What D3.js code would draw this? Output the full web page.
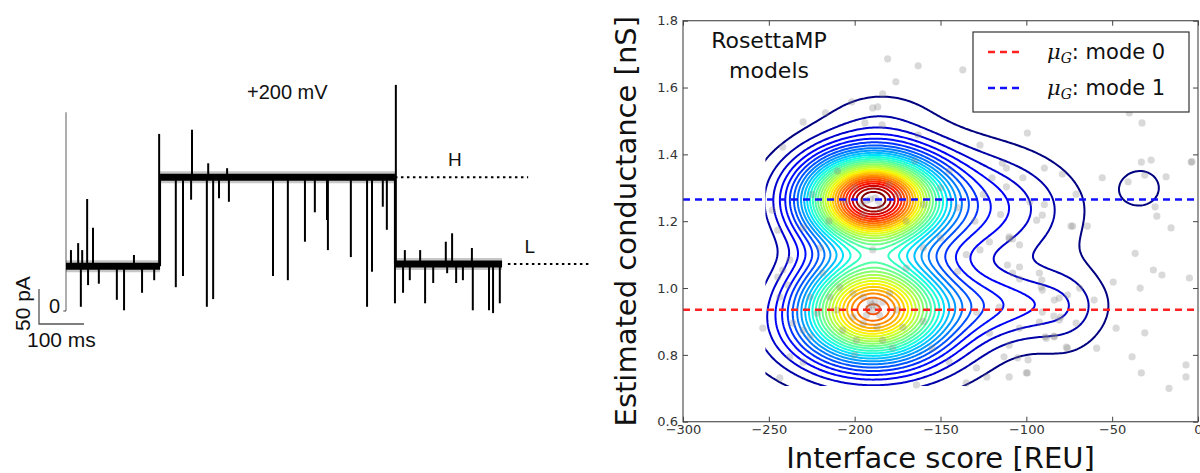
<!DOCTYPE html>
<html>
<head>
<meta charset="utf-8">
<script src="https://cdn.jsdelivr.net/npm/d3@7"></script>
<style>
  html, body { margin: 0; padding: 0; background: #fff; }
  svg { display: block; }
</style>
</head>
<body>
<svg id="fig" width="1200" height="473"></svg>
<script>
// ---------------- Left panel: single-channel current trace ----------------
// Mean current level of each dwell (time in ms, current in pA)
const dwellStart = [0, 209, 731];
const dwellEnd   = [209, 731, 969];
const dwellLevel = [64, 191, 67];

// Brief excursions away from the level: time (ms) and current reached (pA)
const spikeTimes = [11, 27, 33, 36, 47, 49, 60, 73, 113, 129, 151, 169, 196,
  207, 244, 260, 278, 280, 313, 316, 327, 340, 358, 362, 460, 493, 531, 553, 580, 582, 633, 669, 680, 704, 713, 731,
  733, 749, 753, 764, 787, 798, 816, 844, 847, 858, 867, 882, 902, 904, 940, 949, 964];
const spikeCurrents = [87, 97, 6, 87, 160, 37, 119, 39, 16, 1, 80, 26, 44,
  253, 34, 50, 159, 259, 6, 211, 17, 161, 204, 156, 50, 44, 99, 141, 130, 87, 77, 6, 56, 149, 116, 11,
  323, 26, 87, 44, 87, 11, 40, 99, 54, 111, 40, 44, 90, 1, 1, -3, 11];

// Dotted reference levels H and L
const refNames = ["H", "L"];
const refLevel = [191, 67];
const refFrom  = [731, 982];
const refTo    = [1027, 1164];

// Capacitive transient at the voltage step
const transientTime = 0;
const transientPeak = 284;

// ---------------- Right panel: conductance vs interface score ----------------
const xTicks = [-300, -250, -200, -150, -100, -50, 0];
const yTicks = [0.6, 0.8, 1.0, 1.2, 1.4, 1.6, 1.8];

// Gaussian components of the kernel density estimate (score, conductance)
const kdeCx = [-190, -190, -190, -125, -115, -75, -175, -185, -33];
const kdeCy = [1.266, 0.945, 0.86, 1.24, 0.95, 0.93, 1.12, 1.52, 1.30];
const kdeSx = [26, 27, 40, 35, 32, 16, 50, 22, 11];
const kdeSy = [0.09, 0.10, 0.10, 0.11, 0.07, 0.11, 0.26, 0.06, 0.052];
const kdeW  = [1.0, 0.72, 0.14, 0.12, 0.12, 0.04, 0.05, 0.03, 0.05];
const kdeLevels = 30;
// Extent of the evaluation grid
const gridXmin = -252, gridXmax = 5, gridYmin = 0.707, gridYmax = 1.8;

// Mean conductance of each mode
const modeNames = ["mode 0", "mode 1"];
const modeMeans = [0.935, 1.265];
const modeColors = ["#ff2020", "#1010ff"];

// Individual models
const modelScore = [-163, -137, -40, -32.6, -3.5, -31, -55.8, -24, -15.7, -74, -79, -89.5,
  -99.4, -27.3, -33, -4, -40.7, -18.6, -71, -25, -64.5, -73, -36.6, -26, -21, -5, -49.4, -33.7,
  -60.5, -76, -83.7, -80, -71, -47.7, -31, -59, -76.7, -38.4, -7, -7, -33, -99.4, -92.4, -89,
  -83.7, -91.3, -92.4, -104, -110, -108, -94, -90.7, -114, -111.6, -89.5, -102, -111.6, -98,
  -16.9, -105, -99, -100, -110, -113, -104, -88.4, -84, -84, -80.8, -76, -90.7, -80.8, -69,
  -90.7, -91, -104, -108, -111, -104, -110, -121.5, -127, -129, -115.7, -121.5, -110, -164,
  -123, -135, -129, -243.6, -253.5, -237.8, -241.9, -244.8, -239, -243.6, -236, -230, -226,
  -237.8, -230, -189.5, -208.7, -201, -195, -191, -187, -183.7, -189.5, -185.5, -193, -195,
  -187, -201, -210.5, -207, -199, -183.7, -214.5, -179.7, -175.6, -172, -218.6, -226, -222,
  -180.8, -176, -183.7, -189.5, -186.6, -201.7, -217, -194, -184, -230, -241.9, -248, -244.8,
  -191, -193, -188, -200, -185, -195, -175, -205, -180, -215, -160, -170, -150, -140, -130,
  -145, -165, -210, -225, -230, -220, -160, -150, -135, -125, -120, -115, -127, -163, -190,
  -192, -188, -186, -196, -170, -178, -200, -155, -145, -160, -140];
const modelCond = [1.665, 1.653, 1.524, 1.494, 1.378, 1.338, 1.33, 1.215, 1.18, 1.185, 1.341, 1.25,
  1.464, 1.383, 1.377, 1.377, 1.318, 1.333, 1.281, 1.243, 1.185, 1.185, 1.104, 1.054, 1.039, 1.03, 1.018, 1.0,
  0.964, 0.979, 0.964, 0.913, 0.895, 0.88, 0.866, 0.82, 0.823, 0.794, 0.77, 0.734, 0.746, 0.746, 0.898, 0.854,
  0.854, 1.003, 1.045, 1.063, 1.147, 1.147, 1.203, 1.218, 1.374, 1.359, 1.359, 1.33, 1.303, 1.258,
  0.70, 0.791, 0.785, 0.746, 0.734, 0.794, 0.88, 0.85, 0.856, 0.916, 0.904, 0.82, 0.928, 0.97, 1.0,
  0.994, 1.024, 1.027, 1.045, 1.069, 1.129, 1.153, 1.138, 1.114, 0.928, 0.943, 0.865, 0.829, 0.71,
  0.734, 0.716, 0.761, 0.731, 0.88, 1.084, 1.054, 1.033, 1.009, 0.973, 0.895, 0.874, 0.854,
  0.794, 0.778, 1.114, 1.003, 0.985, 0.973, 0.958, 0.943, 0.958, 0.934, 0.919, 0.919, 0.895,
  0.883, 0.913, 0.934, 0.874, 0.844, 0.844, 0.973, 0.985, 0.934, 0.883, 1.045, 0.973, 0.925,
  1.686, 1.617, 1.581, 1.539, 1.542, 1.557, 1.524, 1.494, 1.488, 1.497, 1.422, 1.233, 1.173,
  1.266, 1.262, 1.27, 1.30, 1.24, 1.22, 1.28, 1.26, 1.31, 1.20, 1.25, 1.20, 1.30, 1.24, 1.20,
  1.35, 1.38, 1.35, 1.28, 1.18, 1.12, 1.12, 1.15, 1.10, 1.28, 1.33, 1.22, 1.428, 1.458, 0.95,
  0.94, 0.96, 1.26, 1.25, 1.06, 0.82, 0.80, 0.82, 0.78, 0.90, 1.05];

// ======================================================================
const svg = d3.select("#fig");
const sans = "Liberation Sans, Arial, sans-serif";

// ---- trace ----
const tx = d3.scaleLinear().domain([0, 100]).range([66, 111]);
const ty = d3.scaleLinear().domain([0, 50]).range([311, 276]);
const trace = svg.append("g");

// capacitive transient
trace.append("line")
  .attr("x1", tx(transientTime)).attr("x2", tx(transientTime))
  .attr("y1", ty(0)).attr("y2", ty(transientPeak))
  .attr("stroke", "#777").attr("stroke-width", 1.2);
// zero marker
trace.append("path")
  .attr("d", `M${tx(-6)},${ty(0)}H${tx(transientTime)}`)
  .attr("stroke", "#444").attr("stroke-width", 1).attr("fill", "none");

// noise fringe and core of each dwell
dwellLevel.forEach((lev, k) => {
  trace.append("line")
    .attr("x1", tx(dwellStart[k])).attr("x2", tx(dwellEnd[k]))
    .attr("y1", ty(lev)).attr("y2", ty(lev))
    .attr("stroke", "#000").attr("stroke-opacity", 0.22).attr("stroke-width", 12);
  trace.append("line")
    .attr("x1", tx(dwellStart[k])).attr("x2", tx(dwellEnd[k]))
    .attr("y1", ty(lev)).attr("y2", ty(lev))
    .attr("stroke", "#000").attr("stroke-width", 7);
});
// transitions between dwells
for (let k = 1; k < dwellLevel.length; k++) {
  trace.append("line")
    .attr("x1", tx(dwellStart[k])).attr("x2", tx(dwellStart[k]))
    .attr("y1", ty(dwellLevel[k - 1])).attr("y2", ty(dwellLevel[k]))
    .attr("stroke", "#000").attr("stroke-width", 2);
}
// excursions
function levelAt(t) {
  for (let k = 0; k < dwellLevel.length; k++) if (t <= dwellEnd[k]) return dwellLevel[k];
  return dwellLevel[dwellLevel.length - 1];
}
spikeTimes.forEach((t, i) => {
  trace.append("line")
    .attr("x1", tx(t)).attr("x2", tx(t))
    .attr("y1", ty(levelAt(t))).attr("y2", ty(spikeCurrents[i]))
    .attr("stroke", "#000").attr("stroke-width", 2);
});
// dotted reference levels
refLevel.forEach((lev, k) => {
  trace.append("line")
    .attr("x1", tx(refFrom[k])).attr("x2", tx(refTo[k]))
    .attr("y1", ty(lev)).attr("y2", ty(lev))
    .attr("stroke", "#000").attr("stroke-width", 2).attr("stroke-dasharray", "2.5,3.5");
  trace.append("text")
    .attr("x", tx(refFrom[k]) + (k === 0 ? 60 : 22)).attr("y", ty(lev) - 11)
    .attr("text-anchor", "middle")
    .attr("font-family", sans).attr("font-size", 19).attr("fill", "#111")
    .text(refNames[k]);
});
// voltage label
trace.append("text").attr("x", 247).attr("y", 99)
  .attr("font-family", sans).attr("font-size", 20).attr("fill", "#111")
  .text("+200 mV");
// scale bar
const sbT = -60, sbI = -18.6;
trace.append("path")
  .attr("d", `M${tx(sbT)},${ty(sbI + 50)}V${ty(sbI)}H${tx(sbT + 100)}`)
  .attr("stroke", "#555").attr("stroke-width", 1.3).attr("fill", "none");
trace.append("text").attr("x", 0).attr("y", 0)
  .attr("transform", `translate(30,331) rotate(-90)`)
  .attr("font-family", sans).attr("font-size", 21).attr("fill", "#111")
  .text("50 pA");
trace.append("text").attr("x", 27).attr("y", 347)
  .attr("font-family", sans).attr("font-size", 21).attr("fill", "#111")
  .text("100 ms");
trace.append("text").attr("x", 49).attr("y", 313)
  .attr("font-family", sans).attr("font-size", 20).attr("fill", "#111")
  .text("0");

// ---- density plot ----
const L = 683, R = 1198, T = 20.7, B = 421.7;
const x = d3.scaleLinear().domain([-300, 0]).range([L, R]);
const y = d3.scaleLinear().domain([0.6, 1.8]).range([B, T]);
const plot = svg.append("g");

// jet colormap
const jr = d3.scaleLinear().domain([0, 0.35, 0.66, 0.89, 1]).range([0, 0, 1, 1, 0.5]).clamp(true);
const jg = d3.scaleLinear().domain([0, 0.125, 0.375, 0.64, 0.91, 1]).range([0, 0, 1, 1, 0, 0]).clamp(true);
const jb = d3.scaleLinear().domain([0, 0.11, 0.34, 0.65, 1]).range([0.5, 1, 1, 0, 0]).clamp(true);
const jet = t => d3.rgb(jr(t) * 255, jg(t) * 255, jb(t) * 255).formatHex();

// density evaluated on a pixel grid
const step = 2;
const gx0 = x(gridXmin) - 2 * step, gx1 = x(gridXmax);
const gy0 = y(gridYmax), gy1 = y(gridYmin) + 2 * step;
const nx = Math.ceil((gx1 - gx0) / step) + 1;
const ny = Math.ceil((gy1 - gy0) / step) + 1;
const values = new Float64Array(nx * ny);
for (let j = 0; j < ny; j++) {
  const vy = y.invert(gy0 + j * step);
  for (let i = 0; i < nx; i++) {
    const vx = x.invert(gx0 + i * step);
    let s = 0;
    for (let c = 0; c < kdeCx.length; c++) {
      const dx = (vx - kdeCx[c]) / kdeSx[c], dy = (vy - kdeCy[c]) / kdeSy[c];
      s += kdeW[c] * Math.exp(-0.5 * (dx * dx + dy * dy));
    }
    values[j * nx + i] = s;
  }
}
const vmax = d3.max(values);
const delta = vmax / (kdeLevels + 1);
const thresholds = d3.range(1, kdeLevels + 1).map(k => k * delta);
const contours = d3.contours().size([nx, ny]).thresholds(thresholds)(values);
const gridPath = d3.geoPath(d3.geoTransform({
  point(px, py) { this.stream.point(gx0 + (px - 0.5) * step, gy0 + (py - 0.5) * step); }
}));

svg.append("defs").append("clipPath").attr("id", "kdeClip")
  .append("rect")
  .attr("x", x(gridXmin)).attr("y", T)
  .attr("width", R - x(gridXmin)).attr("height", y(gridYmin) - T);

const colorOf = d3.scaleLinear().domain([thresholds[0], thresholds[thresholds.length - 1]]).range([0, 1]);
plot.append("g").attr("clip-path", "url(#kdeClip)")
  .selectAll("path").data(contours).join("path")
  .attr("d", gridPath)
  .attr("fill", "none")
  .attr("stroke", d => jet(colorOf(d.value)))
  .attr("stroke-width", 2);

// models
plot.append("g").selectAll("circle").data(modelScore).join("circle")
  .attr("cx", (d) => x(d)).attr("cy", (d, i) => y(modelCond[i]))
  .attr("r", 3.6).attr("fill", "#808080").attr("fill-opacity", 0.3);

// mode means
modeMeans.forEach((m, k) => {
  plot.append("line").attr("x1", L).attr("x2", R).attr("y1", y(m)).attr("y2", y(m))
    .attr("stroke", modeColors[k]).attr("stroke-width", 2.5).attr("stroke-dasharray", "7,5");
});

// frame and ticks
plot.append("rect").attr("x", L).attr("y", T).attr("width", R - L).attr("height", B - T)
  .attr("fill", "none").attr("stroke", "#555").attr("stroke-width", 1.2);
const tickLen = 5;
const axB = d3.axisBottom(x).tickValues(xTicks).tickSizeInner(-tickLen).tickSizeOuter(0).tickPadding(3).tickFormat(d3.format("d"));
const axT = d3.axisTop(x).tickValues(xTicks).tickSizeInner(-tickLen).tickSizeOuter(0).tickFormat("");
const axL = d3.axisLeft(y).tickValues(yTicks).tickSizeInner(-tickLen).tickSizeOuter(0).tickPadding(5).tickFormat(d3.format(".1f"));
const axR = d3.axisRight(y).tickValues(yTicks).tickSizeInner(-tickLen).tickSizeOuter(0).tickFormat("");
[[axB, `translate(0,${B})`], [axT, `translate(0,${T})`], [axL, `translate(${L},0)`], [axR, `translate(${R},0)`]]
  .forEach(([ax, tr]) => {
    const g = plot.append("g").attr("transform", tr).call(ax);
    g.select(".domain").remove();
    g.selectAll("line").attr("stroke", "#444");
    g.selectAll("text").attr("font-family", "DejaVu Sans, sans-serif").attr("font-size", 13).attr("fill", "#333");
  });

// axis titles
plot.append("text").attr("x", (L + R) / 2).attr("y", 468).attr("text-anchor", "middle")
  .attr("font-family", "DejaVu Sans, sans-serif").attr("font-size", 29).attr("fill", "#111")
  .text("Interface score [REU]");
plot.append("text").attr("transform", `translate(636,${(T + B) / 2}) rotate(-90)`).attr("text-anchor", "middle")
  .attr("font-family", "DejaVu Sans, sans-serif").attr("font-size", 29).attr("fill", "#111")
  .text("Estimated conductance [nS]");

// annotation
const ann = plot.append("text").attr("text-anchor", "middle")
  .attr("font-family", "DejaVu Sans, sans-serif").attr("font-size", 22).attr("fill", "#111");
ann.append("tspan").attr("x", 769).attr("y", 48).text("RosettaMP");
ann.append("tspan").attr("x", 769).attr("y", 78).text("models");

// legend
const lg = plot.append("g");
lg.append("rect").attr("x", 973).attr("y", 32).attr("width", 216).attr("height", 80)
  .attr("fill", "#fff").attr("stroke", "#333").attr("stroke-width", 1.2);
modeNames.forEach((name, k) => {
  const yy = 52 + k * 36;
  lg.append("line").attr("x1", 988).attr("x2", 1022).attr("y1", yy).attr("y2", yy)
    .attr("stroke", modeColors[k]).attr("stroke-width", 2.5).attr("stroke-dasharray", "7,5");
  const t = lg.append("text").attr("x", 1047).attr("y", yy + 7)
    .attr("font-family", "DejaVu Sans, sans-serif").attr("font-size", 21).attr("fill", "#111");
  t.append("tspan").attr("font-family", "DejaVu Serif, serif").attr("font-style", "italic").text("μ");
  t.append("tspan").attr("font-family", "DejaVu Serif, serif").attr("font-style", "italic")
    .attr("font-size", 14).attr("dy", 4).text("G");
  t.append("tspan").attr("dy", -4).text(": " + name);
});
</script>
</body>
</html>
